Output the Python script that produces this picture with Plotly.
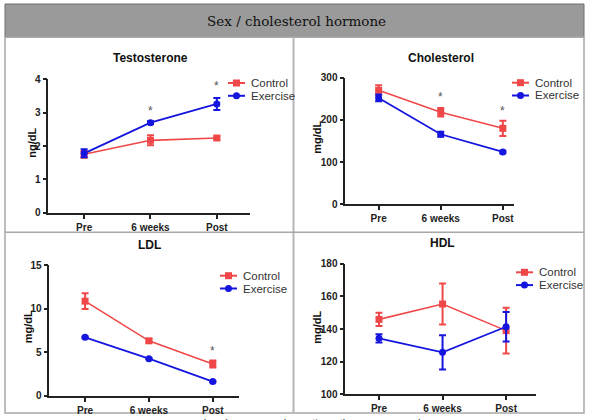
import plotly.graph_objects as go

W, H = 592, 420

categories = ["Pre", "6 weeks", "Post"]
series_names = ["Control", "Exercise"]

testo_control = [1.75, 2.17, 2.24]
testo_control_err = [0.10, 0.15, 0.05]
testo_exercise = [1.78, 2.70, 3.26]
testo_exercise_err = [0.12, 0.04, 0.18]

chol_control = [270, 218, 180]
chol_control_err = [12, 10, 18]
chol_exercise = [252, 166, 124]
chol_exercise_err = [8, 6, 3]

ldl_control = [10.85, 6.30, 3.65]
ldl_control_err = [0.90, 0.20, 0.40]
ldl_exercise = [6.70, 4.25, 1.62]
ldl_exercise_err = [0.08, 0.08, 0.08]

hdl_control = [145.9, 155.3, 139.0]
hdl_control_err = [4.0, 12.5, 14.0]
hdl_exercise = [134.3, 125.7, 141.4]
hdl_exercise_err = [2.5, 10.5, 9.0]

# significance markers: (category index, y)
testo_sig = [(1, 3.05), (2, 3.8)]
chol_sig = [(1, 255), (2, 222)]
ldl_sig = [(2, 5.1)]

RED = "#f04848"
BLUE = "#1515e0"
AX = "#222222"


def px(x):
    return x / W


def py(y):
    return 1 - y / H


panels = [
    dict(title="Testosterone", unit="ng/dL", c=testo_control, ce=testo_control_err,
         e=testo_exercise, ee=testo_exercise_err, sig=testo_sig,
         xd=(48.3, 250), xr=(-0.54, 2.5), yd=(212.7, 79.3), yr=(0, 4), dt=1,
         tx=150.7, ty=58, ux=31.7, uy=143, lx=228, ly=83),
    dict(title="Cholesterol", unit="mg/dL", c=chol_control, ce=chol_control_err,
         e=chol_exercise, ee=chol_exercise_err, sig=chol_sig,
         xd=(345.3, 514), xr=(-0.537, 2.18), yd=(204.3, 77.7), yr=(0, 300), dt=100,
         tx=441, ty=58, ux=316.7, uy=137, lx=512, ly=82.7),
    dict(title="LDL", unit="mg/dL", c=ldl_control, ce=ldl_control_err,
         e=ldl_exercise, ee=ldl_exercise_err, sig=ldl_sig,
         xd=(49.3, 239), xr=(-0.56, 2.41), yd=(395.7, 265), yr=(0, 15), dt=5,
         tx=149, ty=245, ux=28.3, uy=327, lx=220, ly=275.7),
    dict(title="HDL", unit="mg/dL", c=hdl_control, ce=hdl_control_err,
         e=hdl_exercise, ee=hdl_exercise_err, sig=[],
         xd=(345.3, 536), xr=(-0.53, 2.47), yd=(394.3, 263.7), yr=(100, 180), dt=20,
         tx=442, ty=243.3, ux=316.7, uy=327, lx=516, ly=272.3),
]

fig = go.Figure()
annotations = []
shapes = []

# table frame
shapes.append(dict(type="rect", xref="paper", yref="paper", x0=px(5), x1=px(584),
                   y0=py(37), y1=py(4), fillcolor="#9a9a9a",
                   line=dict(color="#6f6f6f", width=1), layer="below"))
shapes.append(dict(type="rect", xref="paper", yref="paper", x0=px(5), x1=px(584),
                   y0=py(413), y1=py(37), fillcolor="rgba(0,0,0,0)",
                   line=dict(color="#a8a8a8", width=1.5), layer="below"))
shapes.append(dict(type="line", xref="paper", yref="paper", x0=px(293.5), x1=px(293.5),
                   y0=py(413), y1=py(37), line=dict(color="#b5b5b5", width=2), layer="below"))
shapes.append(dict(type="line", xref="paper", yref="paper", x0=px(5), x1=px(584),
                   y0=py(232.3), y1=py(232.3), line=dict(color="#a8a8a8", width=1.5), layer="below"))

annotations.append(dict(text="Sex / cholesterol hormone", xref="paper", yref="paper",
                        x=px(296), y=py(21), showarrow=False,
                        font=dict(family="DejaVu Serif", size=13.5, color="#111111"),
                        xanchor="center", yanchor="middle"))
annotations.append(dict(text="그림. 성호르몬 및 콜레스테롤 호르몬 비교", xref="paper", yref="paper",
                        x=px(307.5), y=py(425), showarrow=False,
                        font=dict(family="Noto Sans CJK KR", size=15, color="#111111"),
                        xanchor="center", yanchor="middle"))

for i, p in enumerate(panels, start=1):
    xa = "x" if i == 1 else f"x{i}"
    ya = "y" if i == 1 else f"y{i}"
    fig.add_trace(go.Scatter(
        x=categories, y=p["c"], name=series_names[0], mode="lines+markers",
        line=dict(color=RED, width=1.6),
        marker=dict(symbol="square", size=7, color=RED),
        error_y=dict(type="data", array=p["ce"], color=RED, thickness=2, width=3.5),
        xaxis=xa, yaxis=ya, showlegend=False, cliponaxis=False))
    fig.add_trace(go.Scatter(
        x=categories, y=p["e"], name=series_names[1], mode="lines+markers",
        line=dict(color=BLUE, width=1.8),
        marker=dict(symbol="circle", size=7, color=BLUE),
        error_y=dict(type="data", array=p["ee"], color=BLUE, thickness=2, width=3.5),
        xaxis=xa, yaxis=ya, showlegend=False, cliponaxis=False))

    axis_common = dict(showline=True, linecolor=AX, linewidth=1.6, ticks="outside",
                       ticklen=4, tickwidth=1.5, tickcolor=AX, showgrid=False,
                       zeroline=False, automargin=False,
                       tickfont=dict(family="Liberation Sans", size=10, color=AX,
                                     weight="bold"))
    fig.update_layout(**{
        ("xaxis" if i == 1 else f"xaxis{i}"): dict(
            domain=[px(p["xd"][0]), px(p["xd"][1])], range=list(p["xr"]),
            type="category", anchor=ya, **axis_common),
        ("yaxis" if i == 1 else f"yaxis{i}"): dict(
            domain=[py(p["yd"][0]), py(p["yd"][1])], range=list(p["yr"]),
            dtick=p["dt"], anchor=xa, **axis_common),
    })

    annotations.append(dict(text="<b>%s</b>" % p["title"], xref="paper", yref="paper",
                            x=px(p["tx"]), y=py(p["ty"]), showarrow=False,
                            font=dict(family="Liberation Sans", size=12, color="#111111"),
                            xanchor="center", yanchor="middle"))
    annotations.append(dict(text="<b>%s</b>" % p["unit"], xref="paper", yref="paper",
                            x=px(p["ux"]), y=py(p["uy"]), showarrow=False, textangle=-90,
                            font=dict(family="Liberation Sans", size=11, color="#111111"),
                            xanchor="center", yanchor="middle"))
    for (ci, yv) in p["sig"]:
        annotations.append(dict(text="*", xref=xa, yref=ya, x=categories[ci], y=yv,
                                showarrow=False,
                                font=dict(family="Liberation Sans", size=12, color="#555555"),
                                xanchor="center", yanchor="middle"))

    # legend key (manual, compact)
    for k, (nm, col, sym) in enumerate([(series_names[0], RED, "rect"),
                                        (series_names[1], BLUE, "circle")]):
        yy = p["ly"] + k * 12.8
        shapes.append(dict(type="line", xref="paper", yref="paper",
                           x0=px(p["lx"]), x1=px(p["lx"] + 17), y0=py(yy), y1=py(yy),
                           line=dict(color=col, width=2)))
        cx = p["lx"] + 8.5
        shapes.append(dict(type=sym, xref="paper", yref="paper",
                           x0=px(cx - 3.5), x1=px(cx + 3.5), y0=py(yy + 3.5), y1=py(yy - 3.5),
                           fillcolor=col, line=dict(color=col, width=0)))
        annotations.append(dict(text=nm, xref="paper", yref="paper",
                                x=px(p["lx"] + 21), y=py(yy), showarrow=False,
                                font=dict(family="Liberation Sans", size=11.5, color="#333333"),
                                xanchor="left", yanchor="middle", height=12))

fig.update_layout(width=W, height=H,
                  margin=dict(l=0, r=0, t=0, b=0, pad=0, autoexpand=False),
                  paper_bgcolor="white", plot_bgcolor="white",
                  annotations=annotations, shapes=shapes, showlegend=False)

fig.write_html(
    "out.html",
    config={"displayModeBar": False, "responsive": False},
    post_script=(
        "var s=document.documentElement.style;s.margin='0';s.padding='0';s.overflow='hidden';"
        "var b=document.body.style;b.margin='0';b.padding='0';b.overflow='hidden';"
        "var d=document.getElementById('{plot_id}');"
        "d.style.position='fixed';d.style.left='0px';d.style.top='0px';"
    ),
)
